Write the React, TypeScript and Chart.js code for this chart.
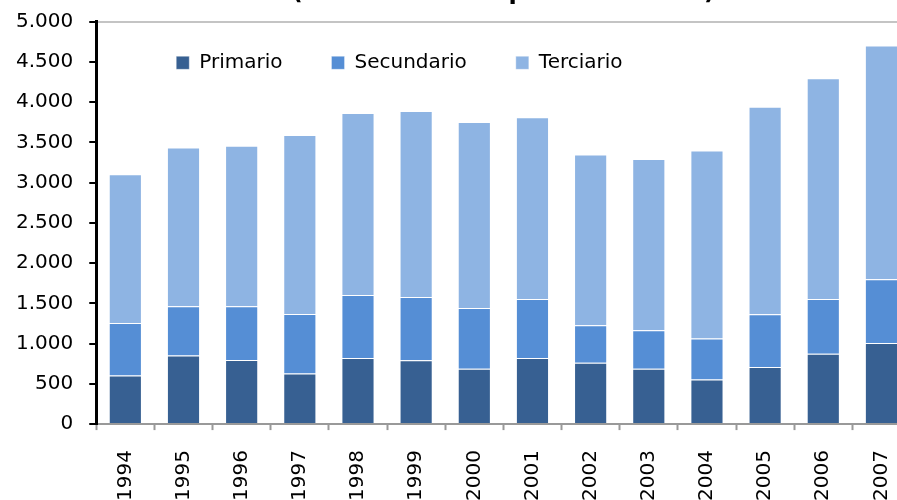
import React, { useEffect, useRef } from "react";
import { Chart, registerables } from "chart.js";

Chart.register(...registerables);

const years = ["1994", "1995", "1996", "1997", "1998", "1999", "2000", "2001", "2002", "2003", "2004", "2005", "2006", "2007"];
const primario = [604, 852, 798, 629, 823, 794, 687, 823, 761, 687, 554, 711, 873, 1009];
const secundario = [653, 612, 666, 738, 782, 786, 757, 732, 468, 479, 509, 654, 682, 790];
const terciario = [1848, 1973, 1994, 2227, 2262, 2312, 2312, 2258, 2121, 2130, 2337, 2580, 2742, 2907];
const seriesNames = ["Primario", "Secundario", "Terciario"];
const seriesColors = ["#376092", "#558ED5", "#8EB4E3"];
const titleText = "(en millones de pesos de 1993)";
const yMin = 0;
const yMax = 5000;
const yStep = 500;

const FONT = "'DejaVu Sans', Verdana, sans-serif";

const fmt = (v: number) => String(v).replace(/\B(?=(\d{3})+(?!\d))/g, ".");

// Place the legend inside the plot area, as in the reference.
const legendShift = {
  id: "legendShift",
  afterLayout(chart: any) {
    const lg = chart.legend;
    if (!lg) return;
    const ca = chart.chartArea;
    lg.left = ca.left + 31;
    lg.right = ca.right;
    lg.width = lg.right - lg.left;
    lg.top = ca.top - 18;
    lg.bottom = lg.top + 120;
    lg.height = 120;
  },
};

export default function App() {
  const ref = useRef<HTMLCanvasElement | null>(null);

  useEffect(() => {
    if (!ref.current) return;
    const chart = new Chart(ref.current, {
      type: "bar",
      data: {
        labels: years,
        datasets: [primario, secundario, terciario].map((d, i) => ({
          label: seriesNames[i],
          data: d,
          backgroundColor: seriesColors[i],
          borderColor: "rgba(255,255,255,0.35)",
          borderWidth: 1,
          categoryPercentage: 1,
          barPercentage: 0.57,
        })),
      },
      plugins: [legendShift],
      options: {
        responsive: false,
        animation: false,
        layout: { padding: { left: 0, right: 0, top: 0, bottom: 0 } },
        plugins: {
          title: {
            display: true,
            text: titleText,
            fullSize: false,
            color: "#000",
            font: { family: FONT, size: 24, weight: "bold" },
            padding: { top: 18, bottom: 14 },
          },
          legend: {
            display: true,
            position: "top",
            align: "start",
            fullSize: false,
            maxHeight: 1,
            labels: {
              boxWidth: 13,
              boxHeight: 13,
              padding: 49,
              color: "#000",
              font: { family: FONT, size: 20 },
            },
          },
          tooltip: { enabled: false },
        },
        scales: {
          x: {
            stacked: true,
            ticks: {
              maxRotation: 90,
              minRotation: 90,
              padding: 20,
              color: "#000",
              font: { family: FONT, size: 20 },
            },
            grid: {
              offset: true,
              drawOnChartArea: false,
              drawTicks: true,
              tickLength: 6,
              tickWidth: 2,
              tickColor: "#999999",
              color: "#999999",
            },
            border: { color: "#999999", width: 2 },
          },
          y: {
            stacked: true,
            min: yMin,
            max: yMax,
            ticks: {
              stepSize: yStep,
              padding: 16,
              color: "#000",
              font: { family: FONT, size: 20 },
              callback: (v: any) => fmt(Number(v)),
            },
            grid: {
              color: (ctx: any) => (ctx.tick && ctx.tick.value === yMax ? "#c4c4c4" : "rgba(0,0,0,0)"),
              lineWidth: 2,
              drawTicks: true,
              tickLength: 7,
              tickWidth: 2,
              tickColor: "#000",
            },
            border: { color: "#000", width: 3 },
          },
        },
      },
    });
    return () => chart.destroy();
  }, []);

  return (
    <canvas
      ref={ref}
      width={926}
      height={561}
      style={{ position: "fixed", left: 0, top: -40, width: 926, height: 561 }}
    />
  );
}
